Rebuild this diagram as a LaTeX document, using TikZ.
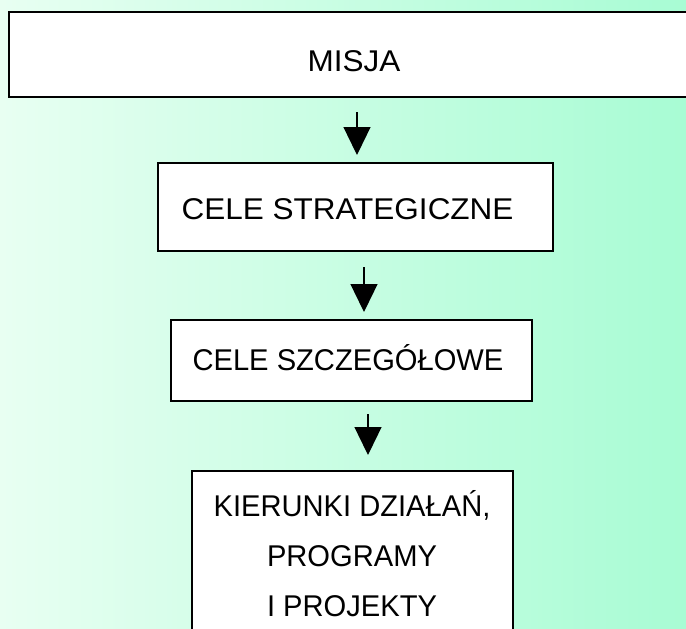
\documentclass[tikz,border=0pt]{standalone}
\usepackage{fontspec}
\usepackage{graphicx}
\setmainfont{Liberation Sans}[FakeStretch=1.05]
\usetikzlibrary{arrows.meta}
\definecolor{bgleft}{RGB}{232,255,242}
\definecolor{bgright}{RGB}{168,252,212}
\newcommand{\narrowtxt}[1]{\scalebox{0.925}[1]{#1}}
\tikzset{
  box/.style={draw=black, line width=2pt, fill=white, rectangle, inner sep=0pt, outer sep=0pt},
  lbl/.style={anchor=base, inner sep=0pt, font=\fontsize{30}{36}\selectfont},
  arr/.style={line width=1.3pt, -{Triangle[width=27pt,length=28pt]}}
}
\begin{document}
\begin{tikzpicture}[x=1pt,y=-1pt]
\useasboundingbox (0,0) rectangle (686,629);
\clip (0,0) rectangle (686,629);
\shade[left color=bgleft, right color=bgright] (0,0) rectangle (686,629);
% boxes
\node[box, minimum width=691pt, minimum height=85pt] (b1) at (354.5,54.5) {};
\node[box, minimum width=395pt, minimum height=88pt] (b2) at (355.5,207) {};
\node[box, minimum width=361pt, minimum height=81pt] (b3) at (351.5,360.5) {};
\node[box, minimum width=321pt, minimum height=179pt] (b4) at (352.5,560.5) {};
% labels
\node[lbl] (t1) at (354,71) {MISJA};
\node[lbl] (t2) at (347.5,219) {CELE STRATEGICZNE};
\node[lbl] (t3) at (348,370) {\narrowtxt{CELE SZCZEGÓŁOWE}};
\node[lbl] (t4a) at (352,516) {\narrowtxt{KIERUNKI DZIAŁAŃ,}};
\node[lbl] (t4b) at (352,566) {\narrowtxt{PROGRAMY}};
\node[lbl] (t4c) at (352,616) {\narrowtxt{I PROJEKTY}};
% arrows
\draw[arr] ([xshift=2.5pt,yshift=-15pt]b1.south) -- ([xshift=1.5pt,yshift=8pt]b2.north);
\draw[arr] ([xshift=8.5pt,yshift=-16pt]b2.south) -- ([xshift=12.5pt,yshift=8pt]b3.north);
\draw[arr] ([xshift=16.5pt,yshift=-13pt]b3.south) -- ([xshift=15.5pt,yshift=16pt]b4.north);
\end{tikzpicture}
\end{document}
